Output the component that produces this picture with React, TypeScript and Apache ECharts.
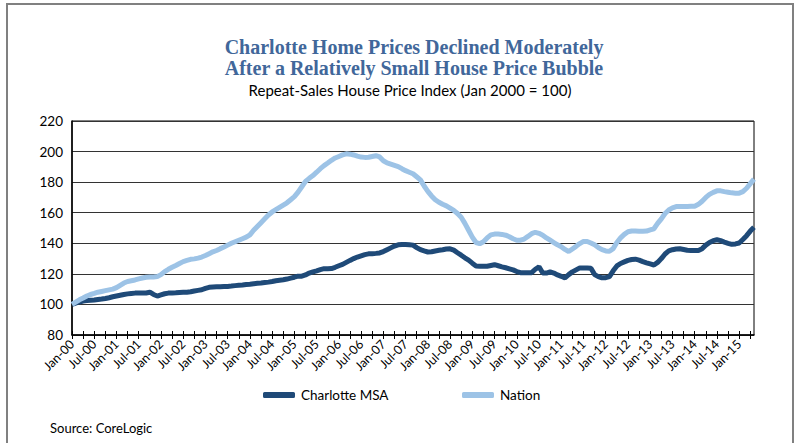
import React, { useEffect, useRef } from 'react';
import * as echarts from 'echarts';

const monthNames = ['Jan', 'Feb', 'Mar', 'Apr', 'May', 'Jun', 'Jul', 'Aug', 'Sep', 'Oct', 'Nov', 'Dec'];
const startYear = 2000;
const monthCount = 185; // Jan-00 .. May-15

const categories: string[] = [];
for (let i = 0; i < monthCount; i++) {
  const yy = String((startYear + Math.floor(i / 12)) % 100).padStart(2, '0');
  categories.push(`${monthNames[i % 12]}-${yy}`);
}

const yTicks = { min: 80, max: 220, interval: 20 };

const charlotte = [
  100, 100.8, 101.6, 102.2, 102.5, 102.7, 102.9, 103.2, 103.5, 103.9, 104.4, 105,
  105.5, 106, 106.5, 106.9, 107.2, 107.4, 107.4, 107.4, 107.5, 108, 106.5, 105.5,
  106.3, 107, 107.4, 107.5, 107.6, 107.8, 107.9, 108, 108.3, 108.8, 109.2, 109.6,
  110.5, 111.2, 111.4, 111.5, 111.6, 111.7, 111.8, 112, 112.3, 112.5, 112.7, 113,
  113.2, 113.5, 113.8, 114, 114.3, 114.6, 115, 115.5, 115.8, 116.1, 116.6, 117.2,
  117.8, 118.5, 118.5, 119.3, 120.5, 121.3, 122, 122.8, 123.4, 123.4, 123.5, 124.3,
  125.3, 126.2, 127.5, 128.8, 130, 131, 131.8, 132.6, 133.1, 133.2, 133.4, 133.7,
  134.6, 135.8, 137, 138.2, 139, 139.2, 139.2, 139.1, 138.8, 137.2, 135.8, 135,
  134.3, 134.5, 135, 135.4, 135.8, 136.3, 136.4, 135.5, 133.8, 132.2, 130.5, 129,
  127, 125.2, 125, 125, 125, 125.5, 126, 125.3, 124.6, 124, 123.3, 122.6,
  121.5, 120.8, 120.7, 120.7, 120.8, 123, 124.6, 120.6, 120.5, 121.3, 120.5, 119.3,
  118.4, 117.4, 119.5, 121.3, 122.6, 123.9, 123.9, 123.9, 123.7, 119.5, 118.2, 117.4,
  117.5, 118.2, 122, 125.2, 126.8, 127.8, 128.8, 129.4, 129.6, 129, 128, 127.2,
  126.5, 125.8, 127.5, 130, 133, 135, 135.8, 136.3, 136.4, 135.9, 135.4, 135.3,
  135.3, 135.3, 136.5, 138.8, 140.5, 141.7, 142.3, 141.7, 140.8, 140, 139.3, 139.6,
  140.2, 142.5, 145, 148, 150.5,
];

const nation = [
  100, 101.5, 103, 104.2, 105.5, 106.5, 107.2, 108, 108.5, 109, 109.5, 110,
  111, 112.5, 114, 115, 115.5, 116, 116.7, 117.3, 117.8, 118, 118, 118.2,
  119.5, 121.5, 123, 124.3, 125.5, 126.8, 128, 128.8, 129.5, 129.8, 130.3, 131,
  132, 133.2, 134.4, 135.3, 136.5, 137.6, 138.8, 140, 141, 142, 143, 144,
  145.5, 148.5, 151, 153.5, 156, 158.5, 160.5, 162, 163.5, 165, 166.5, 168.5,
  170.5, 173.5, 177, 180.5, 182.5, 184.3, 186.5, 188.8, 190.8, 192.5, 194.3, 195.8,
  196.8, 197.8, 198.5, 198.3, 197.8, 197, 196.4, 196.2, 196.3, 196.8, 197.3, 196.5,
  194, 192.6, 191.8, 191, 190.2, 188.8, 187.5, 186.5, 185.5, 183.5, 181.5, 177.5,
  174, 171, 168.5, 166.8, 165.5, 164.5, 163, 161.5, 159.5, 157, 153, 148.5,
  144, 140.5, 139.7, 141, 143.5, 145.5, 146, 146, 145.8, 145.3, 144.3, 143,
  142, 142, 142.8, 144.5, 146.3, 147.2, 146.5, 145.3, 143.5, 142, 140.5, 139,
  137.8, 136, 134.6, 136.3, 138, 139.8, 141.2, 141.2, 140.2, 139, 137.2, 135.8,
  135, 134.8, 136.5, 140.5, 143.5, 145.8, 147.5, 148, 148, 147.9, 147.9, 148,
  148.8, 149.5, 153, 156, 159.5, 161.8, 163.2, 164, 164.1, 164.1, 164.1, 164.2,
  164.3, 165.5, 167.5, 170, 172, 173.3, 174.3, 174.3, 173.8, 173.4, 173, 172.8,
  172.8, 173.8, 176, 179, 182,
];

const seriesNames = ['Charlotte MSA', 'Nation'];
const titleLines = ['Charlotte Home Prices Declined Moderately', 'After a Relatively Small House Price Bubble'];
const subtitle = 'Repeat-Sales House Price Index (Jan 2000 = 100)';
const sourceText = 'Source: CoreLogic';

const SANS = 'Lato, "Open Sans", "Liberation Sans", sans-serif';
const SERIF = '"Liberation Serif", "DejaVu Serif", serif';
const DARK = '#1F4A78';
const LIGHT = '#9DC3E6';

export default function App() {
  const ref = useRef<HTMLDivElement>(null);

  useEffect(() => {
    if (!ref.current) return;
    const chart = echarts.init(ref.current, undefined, { renderer: 'svg' });
    const xBase = {
      type: 'category' as const,
      data: categories,
      boundaryGap: false,
      gridIndex: 0,
      position: 'bottom' as const,
    };
    const legendBase = {
      top: 388,
      padding: 0,
      icon: 'roundRect',
      itemWidth: 32,
      itemHeight: 6,
      itemGap: 6,
      textStyle: { fontSize: 13.5, color: '#000', fontFamily: SANS, padding: [0, 0, 0, 1] },
      selectedMode: false,
    };
    chart.setOption({
      animation: false,
      backgroundColor: '#ffffff',
      grid: {
        left: 72,
        right: 46,
        top: 121,
        bottom: 108,
        show: true,
        borderColor: '#000',
        borderWidth: 1,
        containLabel: false,
      },
      graphic: [
        {
          type: 'rect',
          shape: { x: 7, y: 4, width: 786, height: 470 },
          style: { fill: 'none', stroke: '#808080', lineWidth: 2 },
          silent: true,
        },
        {
          type: 'text',
          x: 414,
          y: 47,
          style: {
            text: titleLines[0],
            fill: '#41679A',
            font: `bold 20px ${SERIF}`,
            textAlign: 'center',
            textVerticalAlign: 'middle',
          },
        },
        {
          type: 'text',
          x: 414,
          y: 68,
          style: {
            text: titleLines[1],
            fill: '#41679A',
            font: `bold 20px ${SERIF}`,
            textAlign: 'center',
            textVerticalAlign: 'middle',
          },
        },
        {
          type: 'text',
          x: 410,
          y: 90,
          style: {
            text: subtitle,
            fill: '#000',
            font: `15px ${SANS}`,
            textAlign: 'center',
            textVerticalAlign: 'middle',
          },
        },
        {
          type: 'text',
          x: 50,
          y: 428,
          style: {
            text: sourceText,
            fill: '#000',
            font: `13px ${SANS}`,
            textAlign: 'left',
            textVerticalAlign: 'middle',
          },
        },
      ],
      legend: [
        { ...legendBase, data: [seriesNames[0]], left: 263 },
        { ...legendBase, data: [seriesNames[1]], left: 462 },
      ],
      xAxis: [
        {
          ...xBase,
          axisLine: { show: true, lineStyle: { color: '#000', width: 1.5 } },
          axisTick: { show: true, interval: 2, length: 4, lineStyle: { color: '#000', width: 1 } },
          axisLabel: {
            interval: 5,
            rotate: 45,
            fontSize: 12.5,
            color: '#000',
            fontFamily: SANS,
            margin: 7,
          },
          splitLine: { show: false },
        },
        {
          ...xBase,
          axisLine: { show: false },
          axisTick: { show: true, inside: true, interval: 2, length: 4, lineStyle: { color: '#000', width: 1 } },
          axisLabel: { show: false },
          splitLine: { show: false },
        },
      ],
      yAxis: {
        type: 'value',
        min: yTicks.min,
        max: yTicks.max,
        interval: yTicks.interval,
        axisLine: { show: true, lineStyle: { color: '#000', width: 1.5 } },
        axisTick: { show: false },
        axisLabel: { fontSize: 13.5, color: '#000', fontFamily: SANS, margin: 9 },
        splitLine: { show: true, lineStyle: { color: '#333', width: 1 } },
      },
      series: [
        {
          name: seriesNames[0],
          type: 'line',
          data: charlotte,
          symbol: 'none',
          lineStyle: { color: DARK, width: 5 },
          itemStyle: { color: DARK },
          z: 3,
        },
        {
          name: seriesNames[1],
          type: 'line',
          data: nation,
          symbol: 'none',
          lineStyle: { color: LIGHT, width: 5 },
          itemStyle: { color: LIGHT },
          z: 4,
        },
      ],
    });
    return () => chart.dispose();
  }, []);

  return (
    <div
      ref={ref}
      style={{ position: 'absolute', left: 0, top: 0, width: 800, height: 443, background: '#fff' }}
    />
  );
}
